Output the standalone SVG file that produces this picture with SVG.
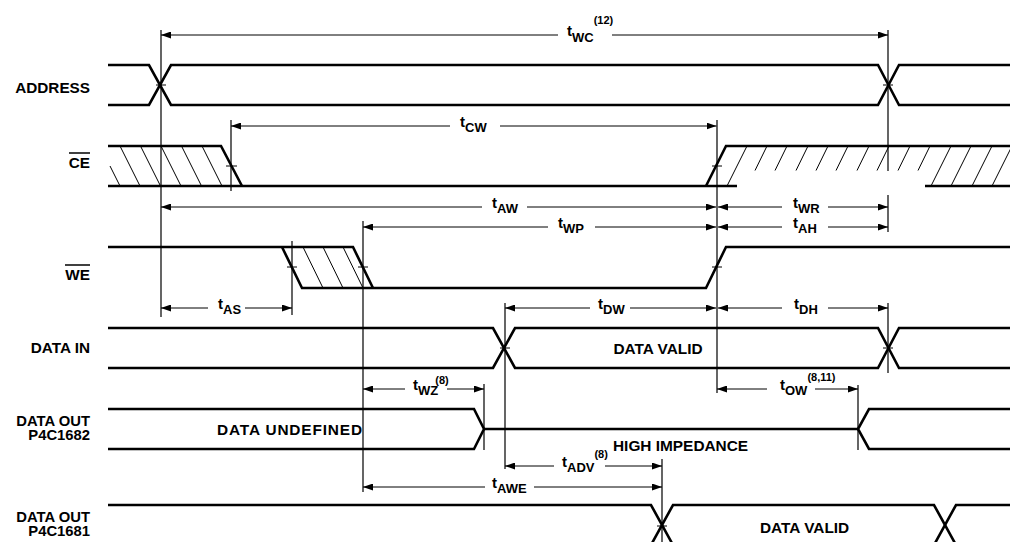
<svg xmlns="http://www.w3.org/2000/svg" width="1010" height="542" viewBox="0 0 1010 542">
<defs>
<marker id="ah" viewBox="0 0 10 7" refX="10" refY="3.5" markerWidth="10" markerHeight="7" markerUnits="userSpaceOnUse" orient="auto-start-reverse"><path d="M0,0 L10,3.5 L0,7 z" fill="#000"/></marker>
<style>
.sig{stroke:#000;stroke-width:2.6;fill:none;stroke-linejoin:miter}
.h{stroke:#000;stroke-width:1;fill:none}
.v{stroke:#000;stroke-width:1.2;fill:none}
.tk{stroke:#000;stroke-width:1;fill:none}
.dl{stroke:#000;stroke-width:1;fill:none;marker-start:url(#ah)}
.dr{stroke:#000;stroke-width:1;fill:none;marker-end:url(#ah)}
.lbl{font-family:"Liberation Sans",Arial,sans-serif;font-weight:bold;font-size:15.3px;text-anchor:end;fill:#000}
.lbl2{font-family:"Liberation Sans",Arial,sans-serif;font-weight:bold;font-size:14.8px;text-anchor:end;fill:#000}
.txt{font-family:"Liberation Sans",Arial,sans-serif;font-weight:bold;font-size:15.4px;fill:#000}
.t{font-family:"Liberation Sans",Arial,sans-serif;font-weight:bold;font-size:15px;fill:#000}
.s{font-size:13px}
.p{font-size:11px}
.ov{stroke:#000;stroke-width:1.5}
</style>
</defs>
<rect width="1010" height="542" fill="#fff"/>

<g id="sig-address">
<text class="lbl" x="90" y="93">ADDRESS</text>
<path class="sig" d="M108,65 H149 L171,105 H878 L899,65 H1010"/>
<path class="sig" d="M108,105 H149 L171,65 H878 L899,105 H1010"/>
</g>

<g id="sig-ce">
<text class="lbl" x="90" y="168">CE</text>
<line class="ov" x1="69" y1="153" x2="90" y2="153"/>
<path class="sig" d="M108,146 H221 L242,186"/>
<path class="sig" d="M108,186 H737"/>
<path class="sig" d="M706,186 L726,146 H1010"/>
<path class="sig" d="M925,186 H1010"/>
<path class="h" d="M110,166 L120,186 M120,146 L140,186 M140.5,146 L160.5,186 M161,146 L181,186 M181.5,146 L201.5,186 M202,146 L222,186"/>
<path class="h" d="M747,146 L727,186 M767,146 L755,170.5 M787,146 L775,170.5 M808,146 L796,170.5 M828,146 L816,170.5 M848,146 L836,170.5 M869,146 L857,170.5 M889,146 L877,170.5 M910,146 L898,170.5 M930,146 L918,170.5 M951,146 L931,186 M971,146 L951,186 M992,146 L972,186 M1012,146 L992,186"/>
</g>

<g id="sig-we">
<text class="lbl" x="90" y="280">WE</text>
<line class="ov" x1="65" y1="265" x2="90" y2="265"/>
<path class="sig" d="M108,247 H353 L373,288"/>
<path class="sig" d="M282,247 L302,288 H706 L726,247 H1010"/>
<path class="h" d="M303,247 L323,288 M323,247 L343,288 M343,247 L363,288"/>
</g>

<g id="sig-datain">
<text class="lbl" x="90" y="353">DATA IN</text>
<path class="sig" d="M108,328 H493 L515,368 H878 L899,328 H1010"/>
<path class="sig" d="M108,368 H493 L515,328 H878 L899,368 H1010"/>
<text class="txt" x="658" y="354" text-anchor="middle">DATA VALID</text>
</g>

<g id="sig-dataout-1682">
<text class="lbl2" x="90" y="425.5">DATA OUT</text>
<text class="lbl2" x="90" y="440">P4C1682</text>
<path class="sig" d="M108,409 H474 L484,429 L474,449 H108"/>
<path class="sig" d="M484,429 H858"/>
<path class="sig" d="M1010,409 H869 L858,429 L869,449 H1010"/>
<text class="txt" x="217" y="435" textLength="145" lengthAdjust="spacing">DATA UNDEFINED</text>
<text class="txt" x="613" y="451">HIGH IMPEDANCE</text>
</g>

<g id="sig-dataout-1681">
<text class="lbl2" x="90" y="521.5">DATA OUT</text>
<text class="lbl2" x="90" y="536">P4C1681</text>
<path class="sig" d="M108,505 H651 L673,545 H934 L956,505 H1010"/>
<path class="sig" d="M108,545 H651 L673,505 H934 L956,545 H1010"/>
<text class="txt" x="760" y="533">DATA VALID</text>
</g>

<g id="connectors">
<path class="v" d="M161,30 V317 M888,30 V171 M888,195 V232 M888,303 V373 M231,120 V191 M717,120 V393 M292,241 V315 M363,221 V492 M505,303 V469 M484,384 V450 M858,385 V450 M662,459 V542"/>
<path class="tk" d="M156,85 H166 M883,85 H893 M226,166 H237 M712,166 H722 M287,267 H297 M358,267 H368 M712,267 H722 M500,348 H510 M883,348 H893 M657,526 H667"/>
<line class="dl" x1="161" y1="35" x2="558" y2="35"/><line class="dr" x1="612" y1="35" x2="888" y2="35"/>
<line class="dl" x1="231" y1="126" x2="450" y2="126"/><line class="dr" x1="500" y1="126" x2="716.5" y2="126"/>
<line class="dl" x1="161" y1="207" x2="482" y2="207"/><line class="dr" x1="527" y1="207" x2="716" y2="207"/>
<line class="dl" x1="718" y1="207" x2="782" y2="207"/><line class="dr" x1="828" y1="207" x2="888" y2="207"/>
<line class="dl" x1="363" y1="227" x2="548" y2="227"/><line class="dr" x1="595" y1="227" x2="716" y2="227"/>
<line class="dl" x1="718" y1="227" x2="782" y2="227"/><line class="dr" x1="828" y1="227" x2="888" y2="227"/>
<line class="dl" x1="161" y1="308" x2="208" y2="308"/><line class="dr" x1="245" y1="308" x2="292" y2="308"/>
<line class="dl" x1="505" y1="308" x2="590" y2="308"/><line class="dr" x1="630" y1="308" x2="716" y2="308"/>
<line class="dl" x1="718" y1="308" x2="782" y2="308"/><line class="dr" x1="828" y1="308" x2="888" y2="308"/>
<line class="dl" x1="363" y1="389" x2="405" y2="389"/><line class="dr" x1="447" y1="389" x2="484" y2="389"/>
<line class="dl" x1="717" y1="389" x2="767" y2="389"/><line class="dr" x1="815" y1="389" x2="858" y2="389"/>
<line class="dl" x1="505" y1="466" x2="554" y2="466"/><line class="dr" x1="605" y1="466" x2="662" y2="466"/>
<line class="dl" x1="363" y1="487" x2="485" y2="487"/><line class="dr" x1="534" y1="487" x2="662" y2="487"/>
<text class="t" x="567" y="36">t<tspan class="s" y="41.5">WC</tspan><tspan class="p" y="24">(12)</tspan></text>
<text class="t" x="460" y="126.5">t<tspan class="s" y="131.5">CW</tspan></text>
<text class="t" x="492" y="207.5">t<tspan class="s" y="212.5">AW</tspan></text>
<text class="t" x="793" y="207.5">t<tspan class="s" y="212.5">WR</tspan></text>
<text class="t" x="558" y="227.5">t<tspan class="s" y="232.5">WP</tspan></text>
<text class="t" x="793" y="227.5">t<tspan class="s" y="232.5">AH</tspan></text>
<text class="t" x="218" y="308.5">t<tspan class="s" y="313.5">AS</tspan></text>
<text class="t" x="598" y="308.5">t<tspan class="s" y="313.5">DW</tspan></text>
<text class="t" x="794" y="308.5">t<tspan class="s" y="313.5">DH</tspan></text>
<text class="t" x="413" y="389.5">t<tspan class="s" y="394.5">WZ</tspan><tspan class="p" y="384" dx="-3">(8)</tspan></text>
<text class="t" x="780" y="389.5">t<tspan class="s" y="394.5">OW</tspan><tspan class="p" y="381">(8,11)</tspan></text>
<text class="t" x="562" y="466.5">t<tspan class="s" y="471.5">ADV</tspan><tspan class="p" y="458">(8)</tspan></text>
<text class="t" x="492" y="487.5">t<tspan class="s" y="492.5">AWE</tspan></text>
</g>
</svg>
